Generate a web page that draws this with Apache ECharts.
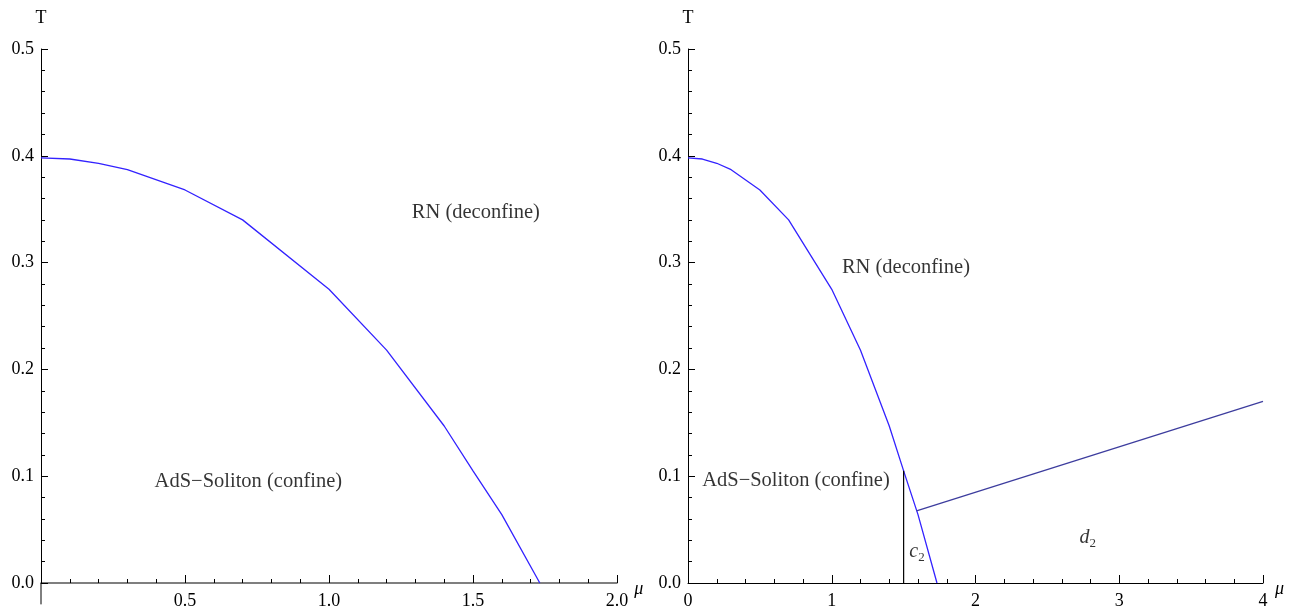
<!DOCTYPE html>
<html>
<head>
<meta charset="utf-8">
<script src="https://cdn.jsdelivr.net/npm/echarts@6/dist/echarts.min.js"></script>
<style>
  html, body { margin: 0; padding: 0; background: #fff; }
  #chart { width: 1298px; height: 612px; }
</style>
</head>
<body>
<div id="chart"></div>
<script>
// Phase boundary T(mu) between the AdS soliton and the RN black hole
const muBoundary = [0, 0.1, 0.2, 0.3, 0.5, 0.7, 1.0, 1.2, 1.4, 1.5, 1.6, 1.732];
const tBoundary  = [0.398, 0.397, 0.393, 0.387, 0.368, 0.340, 0.275, 0.218, 0.147, 0.105, 0.064, 0.0];

// Second branch in the right panel (straight segment)
const muBranch = [1.59, 4.0];
const tBranch  = [0.0675, 0.170];

// Vertical separator at mu = 1.5 (c2 region)
const muSep = [1.5, 1.5];
const tSep  = [0.0, 0.105];

// Region labels: [mu, T, text]
const leftLabels = [
  [0.72, 0.095, 'AdS\u2212Soliton (confine)'],
  [1.51, 0.347, 'RN (deconfine)']
];
const rightLabels = [
  [0.751, 0.0955, 'AdS\u2212Soliton (confine)'],
  [1.516, 0.2955, 'RN (deconfine)'],
  [1.593, 0.029, '{i|c}{s|2}'],
  [2.78, 0.042, '{i|d}{s|2}']
];

// Axis ranges and tick steps
const leftX = { min: 0, max: 2, step: 0.5 };
const rightX = { min: 0, max: 4, step: 1 };
const yRange = { min: 0, max: 0.5, step: 0.1 };

const SERIF = '"Liberation Serif", "DejaVu Serif", serif';
const BLUE = '#3322ff';
const DARKBLUE = '#3d3d9e';
const TICK_FONT = 18;
const TEXT_FONT = 20.5;

const pairs = (xs, ys) => xs.map((x, i) => [x, ys[i]]);

function xAxisDef(idx, r, fmt, lineColor, lineWidth) {
  return {
    type: 'value', gridIndex: idx, min: r.min, max: r.max, interval: r.step,
    name: '\u03bc', nameLocation: 'end', nameGap: 12,
    nameTextStyle: { fontFamily: SERIF, fontStyle: 'italic', fontSize: 18, color: '#000',
                     verticalAlign: 'top', padding: [-3, 0, 0, 0] },
    axisLine: { onZero: false, lineStyle: { color: lineColor, width: lineWidth } },
    axisTick: { inside: true, length: 8, lineStyle: { color: '#000' } },
    minorTick: { show: true, splitNumber: 5, length: 4, lineStyle: { color: '#000' } },
    splitLine: { show: false },
    axisLabel: { fontFamily: SERIF, fontSize: TICK_FONT, color: '#000', margin: 9, formatter: fmt }
  };
}

function yAxisDef(idx) {
  return {
    type: 'value', gridIndex: idx, min: yRange.min, max: yRange.max, interval: yRange.step,
    name: 'T', nameLocation: 'end', nameGap: 22,
    nameTextStyle: { fontFamily: SERIF, fontSize: TICK_FONT, color: '#000', align: 'center' },
    axisLine: { onZero: false, lineStyle: { color: '#000', width: 1 } },
    axisTick: { inside: true, length: 7, lineStyle: { color: '#000' } },
    minorTick: { show: true, splitNumber: 5, length: 4, lineStyle: { color: '#000' } },
    splitLine: { show: false },
    axisLabel: { fontFamily: SERIF, fontSize: TICK_FONT, color: '#000', margin: 7,
                 formatter: v => v.toFixed(1) }
  };
}

function labelSeries(xi, yi, items) {
  return {
    type: 'scatter', xAxisIndex: xi, yAxisIndex: yi, symbolSize: 0, silent: true,
    data: items.map(d => ({ value: [d[0], d[1]], name: d[2] })),
    label: {
      show: true, position: 'inside', formatter: p => p.name,
      fontFamily: SERIF, fontSize: TEXT_FONT, color: '#000',
      rich: {
        i: { fontFamily: SERIF, fontStyle: 'italic', fontSize: 20, color: '#000' },
        s: { fontFamily: SERIF, fontSize: 13, color: '#000', verticalAlign: 'bottom', padding: [11, 0, 0, 0] }
      }
    }
  };
}

const lineStyleSeries = (xi, yi, data, color) => ({
  type: 'line', xAxisIndex: xi, yAxisIndex: yi, data, symbol: 'none', silent: true,
  lineStyle: { color, width: 1.3 }, animation: false
});

const option = {
  animation: false,
  backgroundColor: '#fff',
  grid: [
    { left: 41, top: 49, width: 576, height: 534 },
    { left: 688, top: 49, width: 575, height: 534 }
  ],
  xAxis: [
    xAxisDef(0, leftX, v => (v === 0 ? '' : v.toFixed(1)), '#555', 1.5),
    xAxisDef(1, rightX, v => String(v), '#000', 1)
  ],
  yAxis: [yAxisDef(0), yAxisDef(1)],
  series: [
    lineStyleSeries(0, 0, pairs(muBoundary, tBoundary), BLUE),
    // y-axis stub below the origin in the left panel
    Object.assign(lineStyleSeries(0, 0, [[0, 0], [0, -0.02]], '#000'),
                  { clip: false, lineStyle: { color: '#000', width: 1 } }),
    labelSeries(0, 0, leftLabels),
    lineStyleSeries(1, 1, pairs(muBoundary, tBoundary), BLUE),
    lineStyleSeries(1, 1, pairs(muBranch, tBranch), DARKBLUE),
    Object.assign(lineStyleSeries(1, 1, pairs(muSep, tSep), '#000'),
                  { lineStyle: { color: '#000', width: 1.2 } }),
    labelSeries(1, 1, rightLabels)
  ]
};

const chart = echarts.init(document.getElementById('chart'), null, { renderer: 'canvas' });
chart.setOption(option);
</script>
</body>
</html>
